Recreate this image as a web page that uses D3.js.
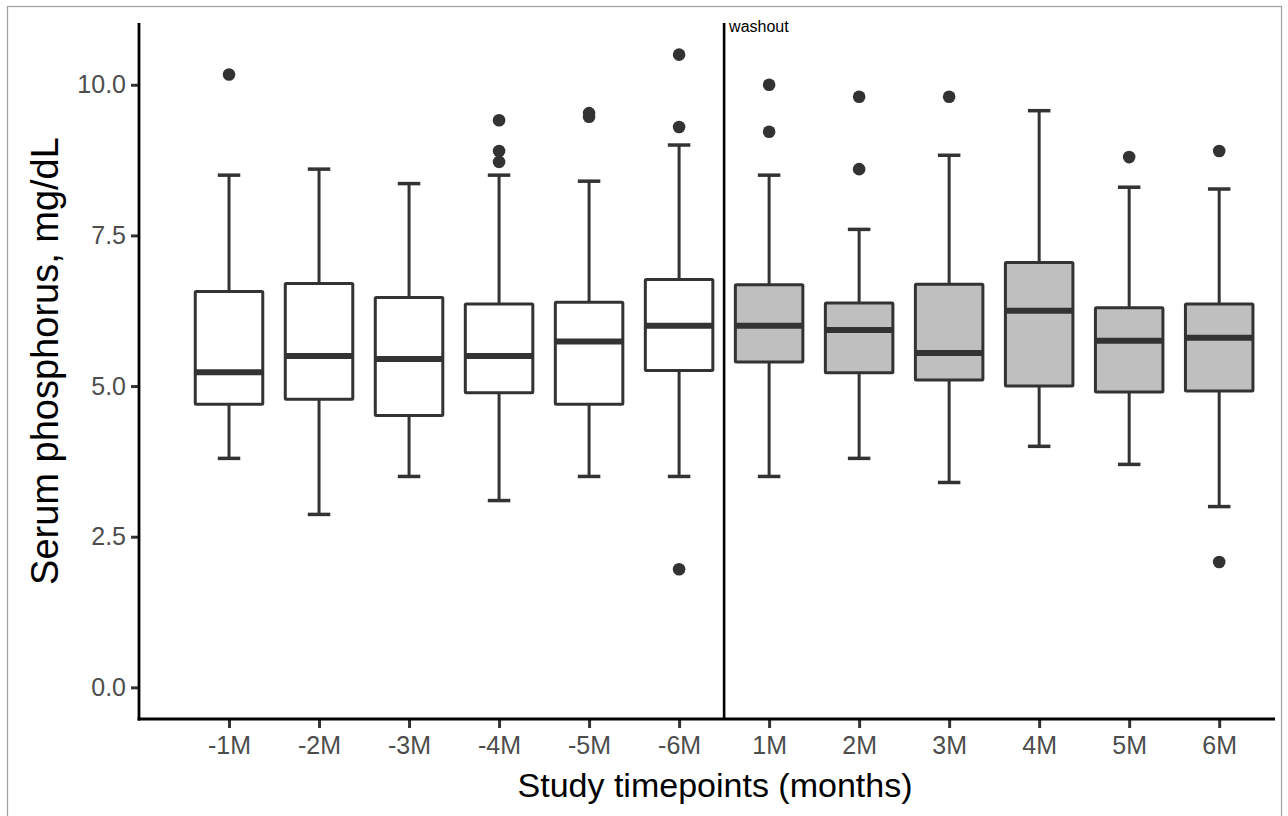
<!DOCTYPE html>
<html lang="en">

<head>
    <meta charset="UTF-8">
    <title>Serum phosphorus by study timepoint</title>
    <style type="text/css">
        body {
            margin: 0;
            padding: 0;
            background-color: #ffffff;
            font-family: "Liberation Sans", Arial, sans-serif;
        }

        svg {
            display: block;
        }
    </style>
</head>

<body>
    <script src="https://d3js.org/d3.v7.min.js"></script>
    <script type="text/javascript">
        // values (mg/dL)
        var categories = ["-1M", "-2M", "-3M", "-4M", "-5M", "-6M", "1M", "2M", "3M", "4M", "5M", "6M"];
        var afterWashout = [false, false, false, false, false, false, true, true, true, true, true, true];
        var whiskerLow = [3.80, 2.87, 3.50, 3.10, 3.50, 3.50, 3.50, 3.80, 3.40, 4.00, 3.70, 3.00];
        var q1 = [4.70, 4.78, 4.51, 4.89, 4.70, 5.26, 5.40, 5.22, 5.10, 5.00, 4.90, 4.92];
        var median = [5.23, 5.50, 5.45, 5.50, 5.74, 6.00, 6.00, 5.93, 5.55, 6.25, 5.75, 5.80];
        var q3 = [6.57, 6.70, 6.47, 6.36, 6.39, 6.77, 6.68, 6.38, 6.69, 7.05, 6.30, 6.36];
        var whiskerHigh = [8.50, 8.60, 8.36, 8.50, 8.40, 9.00, 8.50, 7.60, 8.83, 9.57, 8.30, 8.27];
        var outliers = [
            [10.17],
            [],
            [],
            [8.72, 8.90, 9.41],
            [9.47, 9.53],
            [1.96, 9.30, 10.50],
            [9.22, 10.00],
            [8.60, 9.80],
            [9.80],
            [],
            [8.80],
            [2.08, 8.90]
        ];
        var yTicks = [0, 2.5, 5, 7.5, 10];

        var width = 1288,
            height = 816;
        var margin = { top: 23, right: 13, bottom: 97, left: 139 };

        var svg = d3.select("body").append("svg")
            .attr("width", width)
            .attr("height", height);

        // thin frame around the figure
        svg.append("rect")
            .attr("x", 7.5)
            .attr("y", 6.5)
            .attr("width", width - 14)
            .attr("height", height)
            .attr("fill", "none")
            .attr("stroke", "#a0a0a0")
            .attr("stroke-width", 1.2);

        // index scale: one empty slot on the left, ggplot-like padding on the right
        var x = d3.scaleLinear()
            .domain([-1, categories.length - 1 + 0.62])
            .range([margin.left, width - margin.right]);
        var step = x(1) - x(0);

        var y = d3.scaleLinear()
            .domain([-0.525, 11.025])
            .range([height - margin.bottom, margin.top]);

        var boxes = categories.map(function (c, i) {
            return {
                name: c, i: i, post: afterWashout[i],
                lo: whiskerLow[i], q1: q1[i], med: median[i], q3: q3[i], hi: whiskerHigh[i],
                out: outliers[i]
            };
        });

        var dark = "#333333";
        var boxW = step * 0.75;
        var capW = step * 0.25;

        var g = svg.selectAll(".box")
            .data(boxes)
            .enter().append("g")
            .attr("class", "box")
            .attr("transform", function (d) { return "translate(" + x(d.i) + ",0)"; });

        // whiskers
        g.append("line")
            .attr("x1", 0).attr("x2", 0)
            .attr("y1", function (d) { return y(d.hi); })
            .attr("y2", function (d) { return y(d.q3); })
            .attr("stroke", dark).attr("stroke-width", 3);
        g.append("line")
            .attr("x1", 0).attr("x2", 0)
            .attr("y1", function (d) { return y(d.q1); })
            .attr("y2", function (d) { return y(d.lo); })
            .attr("stroke", dark).attr("stroke-width", 3);

        // caps
        g.selectAll(".cap")
            .data(function (d) { return [d.lo, d.hi]; })
            .enter().append("line")
            .attr("class", "cap")
            .attr("x1", -capW / 2).attr("x2", capW / 2)
            .attr("y1", function (v) { return y(v); })
            .attr("y2", function (v) { return y(v); })
            .attr("stroke", dark).attr("stroke-width", 3.5);

        // boxes
        g.append("rect")
            .attr("x", -boxW / 2)
            .attr("y", function (d) { return y(d.q3); })
            .attr("width", boxW)
            .attr("height", function (d) { return y(d.q1) - y(d.q3); })
            .attr("fill", function (d) { return d.post ? "#bfbfbf" : "#ffffff"; })
            .attr("stroke", dark)
            .attr("stroke-width", 3)
            .attr("rx", 1);

        // medians
        g.append("line")
            .attr("x1", -boxW / 2).attr("x2", boxW / 2)
            .attr("y1", function (d) { return y(d.med); })
            .attr("y2", function (d) { return y(d.med); })
            .attr("stroke", dark).attr("stroke-width", 6);

        // outliers
        g.selectAll(".out")
            .data(function (d) { return d.out; })
            .enter().append("circle")
            .attr("class", "out")
            .attr("cx", 0)
            .attr("cy", function (v) { return y(v); })
            .attr("r", 6.3)
            .attr("fill", dark);

        // washout divider
        svg.append("line")
            .attr("x1", x(5.5)).attr("x2", x(5.5))
            .attr("y1", margin.top).attr("y2", height - margin.bottom)
            .attr("stroke", "#000").attr("stroke-width", 2.6);
        svg.append("text")
            .attr("x", x(5.5) + 5)
            .attr("y", margin.top + 9)
            .attr("font-size", 16)
            .attr("fill", "#000")
            .text("washout");

        // axes
        var yAxis = d3.axisLeft(y)
            .tickValues(yTicks)
            .tickFormat(d3.format(".1f"))
            .tickSize(8)
            .tickPadding(5);
        var yG = svg.append("g")
            .attr("transform", "translate(" + margin.left + ",0)")
            .call(yAxis);

        var xAxis = d3.axisBottom(x)
            .tickValues(d3.range(categories.length))
            .tickFormat(function (i) { return categories[i]; })
            .tickSize(9)
            .tickPadding(8);
        var xG = svg.append("g")
            .attr("transform", "translate(0," + (height - margin.bottom) + ")")
            .call(xAxis);

        [yG, xG].forEach(function (ax) {
            ax.select(".domain").remove();
            ax.selectAll(".tick line").attr("stroke", dark).attr("stroke-width", 3);
            ax.selectAll(".tick text")
                .attr("fill", "#4d4d4d")
                .attr("font-size", 25)
                .attr("font-family", "'Liberation Sans', Arial, sans-serif");
        });

        // axis lines drawn to the full panel extent
        svg.append("line")
            .attr("x1", margin.left).attr("x2", margin.left)
            .attr("y1", margin.top).attr("y2", height - margin.bottom + 1.4)
            .attr("stroke", "#000").attr("stroke-width", 2.8);
        svg.append("line")
            .attr("x1", margin.left - 1.4).attr("x2", width - margin.right)
            .attr("y1", height - margin.bottom).attr("y2", height - margin.bottom)
            .attr("stroke", "#000").attr("stroke-width", 2.8);

        // axis titles
        svg.append("text")
            .attr("x", 715)
            .attr("y", 797)
            .attr("text-anchor", "middle")
            .attr("font-size", 34)
            .attr("fill", "#000")
            .text("Study timepoints (months)");

        svg.append("text")
            .attr("transform", "translate(58,361) rotate(-90)")
            .attr("text-anchor", "middle")
            .attr("font-size", 38)
            .attr("fill", "#000")
            .text("Serum phosphorus, mg/dL");
    </script>
</body>

</html>
